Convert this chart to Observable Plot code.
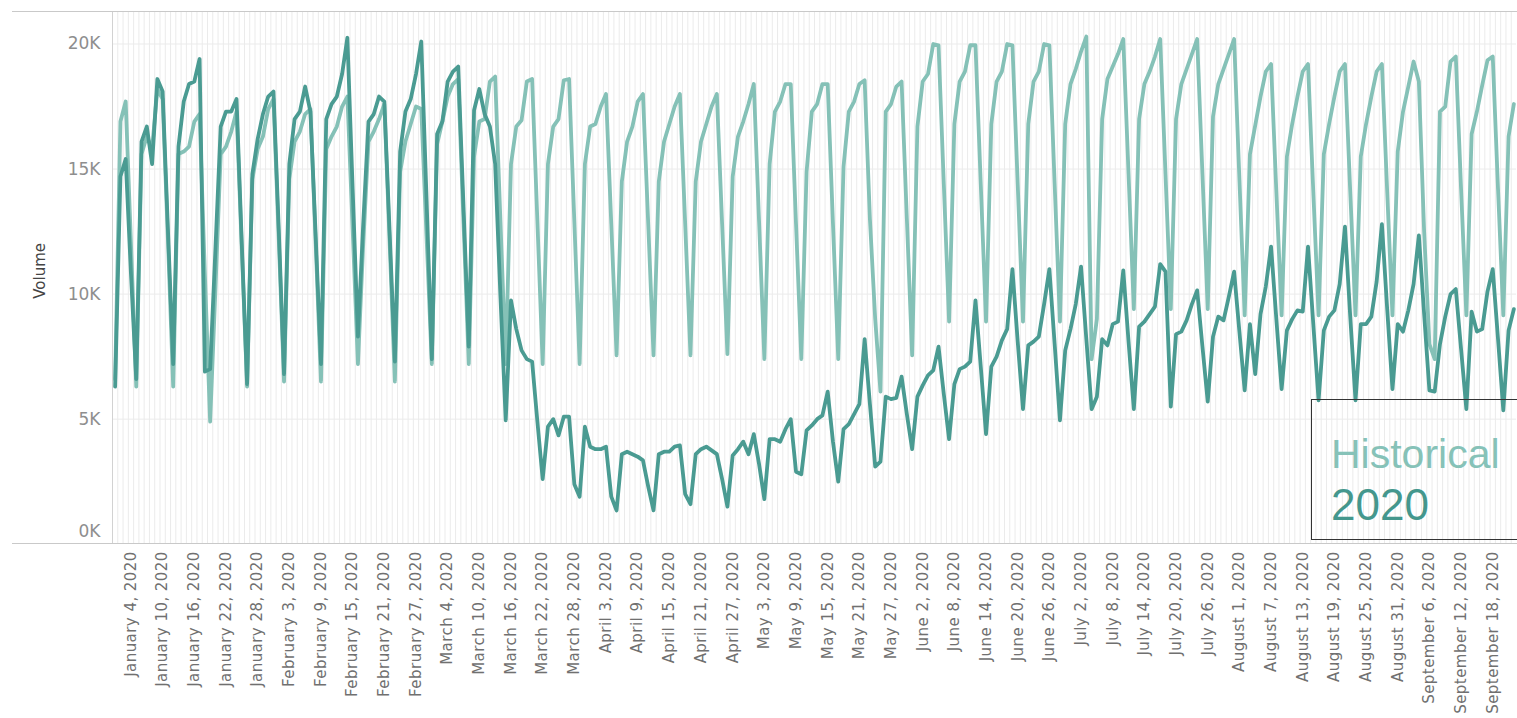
<!DOCTYPE html>
<html><head><meta charset="utf-8">
<script src="https://cdn.jsdelivr.net/npm/d3@7"></script>
<script src="https://cdn.jsdelivr.net/npm/@observablehq/plot@0.6"></script>
<style>
html,body{margin:0;padding:0;background:#fff;overflow:hidden;}
#wrap{position:relative;width:1517px;height:718px;overflow:hidden;}
#wrap svg{position:absolute;left:0;top:0;}
.hline{position:absolute;height:1px;background:#c9c9c9;}
.legend{position:absolute;left:1311px;top:399px;width:230px;height:139px;border:1px solid #333;font-family:"Liberation Sans",Arial,sans-serif;}
.legend div{position:absolute;left:19px;line-height:41px;white-space:nowrap;}
</style></head><body><div id="wrap"></div>
<script>
const startDate = new Date(Date.UTC(2020, 0, 1));
const seriesNames = ["Historical", "2020"];
const seriesColors = ["#85c1b7", "#4a9b92"];

const historical = [
6600,16900,17700,12000,
6300,15600,16300,15800,18200,17800,12200,
6300,15600,15700,15900,16900,17200,10800,
4900,10200,15600,15900,16500,17300,11800,
6300,14600,15800,16300,17400,17800,12200,
6500,14600,16100,16500,17200,17400,12000,
6500,15800,16300,16700,17500,17900,12600,
7200,12000,16100,16500,17000,17600,12100,
6500,14900,16100,16800,17500,17400,12300,
7200,16000,16900,17900,18400,18600,12900,
7200,15500,16900,17000,18500,18700,12900,
7200,15200,16700,16950,18500,18600,12900,
7200,15200,16700,17000,18550,18600,12900,
7200,15200,16700,16800,17500,18000,12800,
7550,14500,16100,16700,17700,18000,12800,
7550,14500,16100,16800,17500,18000,12800,
7550,14500,16100,16800,17500,18000,12800,
7600,14700,16300,16900,17600,18400,12900,
7400,15200,17300,17700,18400,18400,12800,
7400,14900,17300,17600,18400,18400,12800,
7400,15100,17300,17700,18400,18550,13000,
9000,6100,17300,17600,18300,18500,13000,
7550,16700,18500,18800,20000,19950,14400,
8900,16800,18500,18900,19950,19950,14400,
8900,16800,18500,18900,20000,19950,14400,
8900,16800,18500,18900,20000,19950,14400,
8900,16800,18400,19000,19700,20300,7400,
9000,17000,18600,19100,19600,20200,14800,
9400,17000,18400,18900,19500,20200,14800,
9400,17000,18400,19000,19600,20200,14800,
9400,17100,18400,19000,19600,20200,14600,
9150,15600,16750,17900,18900,19200,14100,
9150,15500,16800,17900,18900,19200,14100,
9150,15600,16800,17900,18900,19200,14100,
9150,15500,16800,17900,18900,19200,14100,
9150,15700,17300,18300,19300,18500,12500,
8000,7400,17300,17500,19300,19500,14200,
9150,16400,17300,18350,19350,19500,14200,
9150,16300,17600];

const volume2020 = [
6300,14700,15400,10800,
6600,16100,16700,15200,18600,18100,12600,
7200,15900,17700,18400,18500,19400,6900,
7000,11800,16700,17300,17300,17800,12000,
6400,14800,16200,17200,17900,18100,12600,
6800,15200,17000,17300,18300,17300,12300,
7200,17000,17600,17900,18800,20250,14200,
8300,12800,16900,17200,17900,17700,12500,
7300,15700,17300,17800,18800,20100,13800,
7400,16400,16900,18500,18900,19100,13500,
7900,17350,18200,17200,16700,15200,9900,
4950,9750,8600,7750,7400,7300,4900,
2600,4700,5000,4350,5100,5100,2400,
1900,4700,3900,3800,3800,3900,1900,
1350,3600,3700,3600,3500,3350,2300,
1350,3600,3700,3700,3900,3950,2000,
1600,3600,3800,3900,3750,3600,2600,
1500,3550,3800,4100,3600,4400,3200,
1800,4200,4200,4100,4600,5000,2900,
2800,4550,4750,5000,5150,6100,4100,
2500,4600,4800,5200,5600,8200,5600,
3100,3300,5900,5800,5850,6700,5200,
3800,5900,6350,6750,6950,7900,6000,
4200,6400,7000,7100,7300,9750,7100,
4400,7100,7500,8150,8600,11000,8100,
5400,7950,8100,8300,9600,11000,8000,
4950,7750,8600,9600,11100,8200,5400,
5900,8200,7950,8800,8900,10950,8100,
5400,8700,8900,9200,9500,11200,10900,
5500,8400,8500,8950,9600,10150,7900,
5700,8300,9100,8950,9900,10900,8500,
6150,8800,6800,9200,10300,11900,9000,
6200,8550,9000,9350,9300,11900,8800,
5750,8550,9100,9350,10400,12700,9100,
5750,8800,8800,9100,10500,12800,9400,
6200,8800,8500,9350,10400,12350,9200,
6150,6100,8000,9100,10000,10200,7800,
5400,9300,8500,8600,10100,11000,8200,
5350,8550,9400];

const yTicks = [0, 5000, 10000, 15000, 20000];
const yMax = 21300;
const tickStep = 6;      // one label every 6 days
const firstTickIndex = 3; // January 4

const dates = historical.map((_, i) => d3.utcDay.offset(startDate, i));
const rows = [];
dates.forEach((d, i) => {
  rows.push({date: d, series: seriesNames[0], volume: historical[i]});
  rows.push({date: d, series: seriesNames[1], volume: volume2020[i]});
});
const tickDates = d3.range(firstTickIndex, dates.length, tickStep).map(i => dates[i]);
const bandEdges = dates.map(d => d3.utcHour.offset(d, -12));
const x0 = d3.utcHour.offset(dates[0], -12);
const x1 = d3.utcHour.offset(dates[dates.length - 1], 12);
const kFmt = d => (d / 1000) + "K";

const chart = Plot.plot({
  width: 1517, height: 718,
  marginLeft: 112, marginRight: 1, marginTop: 11, marginBottom: 174.3,
  style: {fontFamily: "DejaVu Sans, sans-serif", background: "transparent", overflow: "visible"},
  x: {type: "utc", domain: [x0, x1]},
  y: {domain: [0, yMax]},
  color: {domain: seriesNames, range: seriesColors},
  marks: [
    Plot.ruleX(bandEdges, {stroke: "#ebebeb", strokeWidth: 1}),
    Plot.ruleY(yTicks.filter(v => v > 0), {stroke: "#ebebeb", strokeWidth: 1}),
    Plot.ruleX([x0], {stroke: "#d2d2d2"}),
    Plot.axisY(yTicks.filter(v => v > 0), {tickSize: 0, tickPadding: 12, tickFormat: kFmt, fontSize: 17, fill: "#8e8e8e", label: null}),
    Plot.axisY([0], {tickSize: 0, tickPadding: 12, tickFormat: kFmt, fontSize: 17, fill: "#8e8e8e", dy: -13, label: null}),
    Plot.text(["Volume"], {frameAnchor: "left", dx: -72, dy: -7, rotate: -90, textAnchor: "middle", lineAnchor: "middle", fill: "#444", fontSize: 15}),
    Plot.axisX(tickDates, {tickSize: 0, tickPadding: 7, tickRotate: -90, tickFormat: d3.utcFormat("%B %-d, %Y"), fontSize: 15, fill: "#707070", label: null}),
    Plot.lineY(rows.filter(r => r.series === seriesNames[0]), {x: "date", y: "volume", stroke: "series", strokeWidth: 3.8}),
    Plot.lineY(rows.filter(r => r.series === seriesNames[1]), {x: "date", y: "volume", stroke: "series", strokeWidth: 3.8})
  ]
});
const wrap = document.getElementById("wrap");
wrap.appendChild(chart);
d3.select(chart).selectAll("g[aria-label='x-axis tick label'] text").style("letter-spacing", "0.45px");

// frame lines that run into the left margin, positioned from the y scale
const ys = chart.scale("y");
[ys.apply(0), ys.apply(yMax)].forEach(y => {
  const l = document.createElement("div");
  l.className = "hline";
  l.style.left = "12px"; l.style.width = "1505px"; l.style.top = Math.round(y - 0.5) + "px";
  wrap.appendChild(l);
});

// legend
const lg = document.createElement("div");
lg.className = "legend";
seriesNames.forEach((name, i) => {
  const t = document.createElement("div");
  t.textContent = name;
  t.style.color = i === 0 ? "#86c2b8" : "#44978d";
  t.style.fontSize = (i === 0 ? 41 : 44) + "px";
  t.style.top = (i === 0 ? 34 : 84) + "px";
  lg.appendChild(t);
});
wrap.appendChild(lg);
</script></body></html>
